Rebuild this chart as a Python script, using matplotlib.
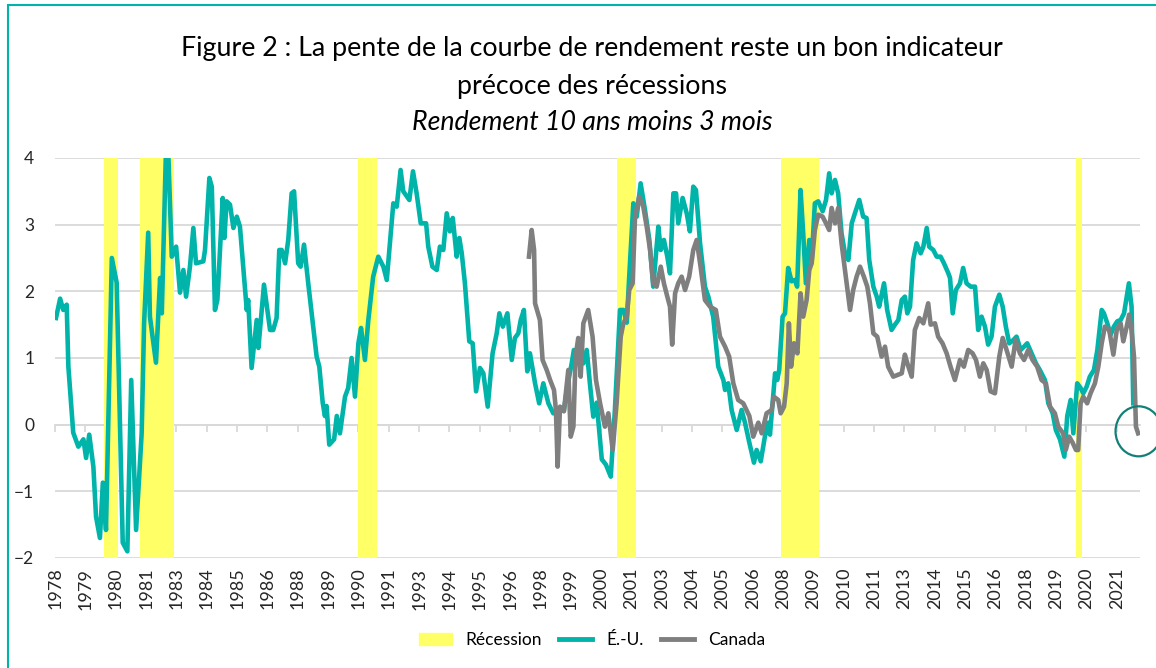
import matplotlib
matplotlib.use("Agg")
import matplotlib.pyplot as plt
from matplotlib.patches import Patch, Ellipse, Rectangle
from matplotlib.lines import Line2D

# recession periods (start, end) in decimal years
recessions = [(1980.0, 1980.58), (1981.5, 1982.92), (1990.5, 1991.25),
              (2001.17, 2001.92), (2007.92, 2009.5), (2020.08, 2020.33)]

# 10y - 3m spread, United States
us_years = [1978.04, 1978.21, 1978.34, 1978.48, 1978.55, 1978.75, 1978.96, 1979.17, 1979.28, 1979.41,
            1979.58, 1979.69, 1979.85, 1979.97, 1980.10, 1980.34, 1980.54, 1980.79, 1980.98, 1981.14,
            1981.34, 1981.57, 1981.67, 1981.84, 1981.91, 1982.16, 1982.33, 1982.40, 1982.57, 1982.67,
            1982.81, 1982.99, 1983.15, 1983.29, 1983.40, 1983.56, 1983.70, 1983.81, 1984.11, 1984.18,
            1984.36, 1984.46, 1984.59, 1984.69, 1984.91, 1984.98, 1985.07, 1985.21, 1985.35, 1985.49,
            1985.62, 1985.90, 1985.96, 1986.10, 1986.31, 1986.38, 1986.61, 1986.86, 1986.99, 1987.13,
            1987.24, 1987.34, 1987.48, 1987.61, 1987.75, 1987.85, 1988.02, 1988.12, 1988.26, 1988.44,
            1988.78, 1988.89, 1989.03, 1989.12, 1989.19, 1989.30, 1989.50, 1989.61, 1989.74, 1989.95,
            1990.08, 1990.22, 1990.36, 1990.50, 1990.61, 1990.77, 1990.91, 1991.11, 1991.32, 1991.53,
            1991.67, 1991.80, 1991.94, 1992.08, 1992.24, 1992.35, 1992.60, 1992.75, 1992.90, 1993.07,
            1993.29, 1993.38, 1993.55, 1993.73, 1993.86, 1994.00, 1994.14, 1994.27, 1994.39, 1994.55,
            1994.66, 1994.76, 1994.89, 1995.07, 1995.21, 1995.35, 1995.51, 1995.65, 1995.83, 1996.03,
            1996.20, 1996.31, 1996.45, 1996.64, 1996.82, 1996.95, 1997.09, 1997.19, 1997.32, 1997.46,
            1997.57, 1997.78, 1997.95, 1998.12, 1998.33, 1998.53, 1998.74, 1998.97, 1999.11, 1999.29,
            1999.38, 1999.56, 1999.77, 1999.91, 2000.04, 2000.18, 2000.32, 2000.53, 2000.70, 2000.90,
            2001.07, 2001.28, 2001.42, 2001.56, 2001.66, 2001.83, 2001.97, 2002.13, 2002.31, 2002.49,
            2002.65, 2002.86, 2002.96, 2003.09, 2003.23, 2003.34, 2003.48, 2003.59, 2003.68, 2003.86,
            2004.03, 2004.16, 2004.30, 2004.41, 2004.58, 2004.78, 2004.92, 2005.12, 2005.33, 2005.54,
            2005.61, 2005.74, 2005.88, 2006.09, 2006.29, 2006.43, 2006.61, 2006.80, 2006.91, 2007.08,
            2007.25, 2007.39, 2007.46, 2007.67, 2007.76, 2007.84, 2007.98, 2008.08, 2008.21, 2008.35,
            2008.49, 2008.58, 2008.72, 2008.83, 2008.94, 2009.08, 2009.18, 2009.31, 2009.45, 2009.63,
            2009.77, 2009.90, 2010.00, 2010.14, 2010.27, 2010.41, 2010.55, 2010.69, 2010.83, 2010.96,
            2011.14, 2011.30, 2011.44, 2011.55, 2011.72, 2011.86, 2011.96, 2012.16, 2012.29, 2012.47,
            2012.61, 2012.75, 2012.89, 2013.02, 2013.12, 2013.23, 2013.36, 2013.50, 2013.67, 2013.78,
            2013.92, 2014.02, 2014.19, 2014.33, 2014.49, 2014.63, 2014.81, 2014.88, 2014.99, 2015.12,
            2015.29, 2015.42, 2015.56, 2015.73, 2015.91, 2016.04, 2016.18, 2016.32, 2016.45, 2016.59,
            2016.73, 2016.91, 2017.05, 2017.18, 2017.32, 2017.49, 2017.62, 2017.79, 2017.93, 2018.06,
            2018.24, 2018.42, 2018.58, 2018.79, 2018.93, 2019.11, 2019.24, 2019.41, 2019.59, 2019.71,
            2019.85, 2019.96, 2020.12, 2020.26, 2020.37, 2020.51, 2020.64, 2020.81, 2020.95, 2021.13,
            2021.22, 2021.36, 2021.50, 2021.63, 2021.77, 2021.91, 2022.05, 2022.16, 2022.25, 2022.36,
            2022.43]
us_values = [1.60, 1.89, 1.72, 1.80, 0.87, -0.12, -0.33, -0.22, -0.50, -0.15,
             -0.63, -1.38, -1.70, -0.87, -1.58, 2.50, 2.13, -1.77, -1.90, 0.67,
             -1.58, -0.13, 1.52, 2.88, 1.62, 0.93, 2.20, 1.67, 4.10, 4.05,
             2.52, 2.67, 1.98, 2.32, 1.92, 2.37, 2.95, 2.42, 2.45, 2.62,
             3.70, 3.57, 1.72, 1.87, 3.40, 2.80, 3.35, 3.30, 2.95, 3.12,
             2.97, 1.72, 1.87, 0.85, 1.57, 1.15, 2.10, 1.42, 1.42, 1.60,
             2.62, 2.62, 2.42, 2.77, 3.47, 3.50, 2.42, 2.37, 2.70, 2.10,
             1.02, 0.87, 0.33, 0.13, 0.28, -0.30, -0.22, 0.13, -0.13, 0.42,
             0.55, 1.00, 0.42, 1.22, 1.45, 0.97, 1.57, 2.22, 2.52, 2.37,
             2.17, 2.72, 3.32, 3.27, 3.82, 3.50, 3.37, 3.80, 3.47, 3.02,
             3.02, 2.67, 2.37, 2.32, 2.67, 2.62, 3.17, 2.90, 3.10, 2.52,
             2.80, 2.57, 2.12, 1.25, 1.22, 0.50, 0.85, 0.77, 0.27, 1.07,
             1.37, 1.67, 1.47, 1.67, 0.97, 1.30, 1.37, 1.57, 1.72, 0.80,
             1.07, 0.62, 0.32, 0.62, 0.32, 0.17, 0.20, 0.22, 0.57, 0.92,
             1.12, 0.92, 0.92, 1.12, 0.62, 0.12, 0.33, -0.52, -0.60, -0.78,
             0.22, 1.72, 1.72, 1.53, 2.22, 3.32, 3.12, 3.62, 3.22, 2.77,
             2.07, 2.97, 2.62, 2.77, 2.52, 2.27, 3.47, 3.47, 3.02, 3.40,
             3.17, 2.90, 3.57, 3.52, 2.72, 2.07, 1.92, 1.62, 0.87, 0.67,
             0.52, 0.62, 0.22, -0.08, 0.22, 0.03, -0.27, -0.57, -0.38, -0.55,
             -0.18, 0.03, -0.15, 0.77, 0.67, 0.82, 1.62, 1.67, 2.35, 2.15,
             2.17, 2.07, 3.52, 2.87, 2.12, 2.77, 2.47, 3.32, 3.35, 3.20,
             3.37, 3.77, 3.47, 3.67, 3.47, 2.87, 2.57, 2.47, 3.02, 3.17,
             3.37, 3.12, 3.10, 2.47, 2.07, 1.92, 1.77, 2.12, 1.72, 1.42,
             1.50, 1.57, 1.87, 1.92, 1.67, 1.77, 2.47, 2.72, 2.57, 2.67,
             2.95, 2.67, 2.62, 2.52, 2.52, 2.42, 2.27, 2.20, 1.67, 2.02,
             2.12, 2.35, 2.12, 2.07, 2.07, 1.42, 1.62, 1.47, 1.20, 1.32,
             1.77, 1.95, 1.77, 1.47, 1.22, 1.27, 1.32, 1.12, 1.17, 1.22,
             1.07, 0.92, 0.82, 0.67, 0.32, 0.17, -0.08, -0.22, -0.48, 0.13,
             0.37, -0.13, 0.62, 0.55, 0.47, 0.57, 0.72, 0.82, 1.12, 1.72,
             1.67, 1.52, 1.35, 1.47, 1.55, 1.57, 1.67, 1.92, 2.12, 1.77,
             0.32]

# 10y - 3m spread, Canada
ca_years = [1997.53, 1997.64, 1997.74, 1997.78, 1997.98, 1998.09, 1998.26, 1998.40, 1998.56, 1998.64,
            1998.71, 1998.81, 1998.97, 1999.15, 1999.25, 1999.36, 1999.45, 1999.56, 1999.66, 1999.77,
            1999.97, 2000.15, 2000.29, 2000.46, 2000.66, 2000.80, 2000.98, 2001.14, 2001.31, 2001.42,
            2001.56, 2001.66, 2001.80, 2001.90, 2002.07, 2002.24, 2002.38, 2002.52, 2002.65, 2002.79,
            2002.96, 2003.09, 2003.23, 2003.34, 2003.43, 2003.55, 2003.68, 2003.82, 2003.96, 2004.13,
            2004.30, 2004.44, 2004.60, 2004.78, 2004.99, 2005.23, 2005.40, 2005.61, 2005.78, 2005.95,
            2006.15, 2006.36, 2006.61, 2006.77, 2006.98, 2007.12, 2007.32, 2007.53, 2007.62, 2007.80,
            2007.90, 2008.04, 2008.15, 2008.24, 2008.33, 2008.45, 2008.59, 2008.72, 2008.83, 2008.97,
            2009.08, 2009.18, 2009.31, 2009.45, 2009.63, 2009.77, 2009.90, 2010.00, 2010.14, 2010.27,
            2010.41, 2010.55, 2010.76, 2010.89, 2011.03, 2011.17, 2011.33, 2011.47, 2011.58, 2011.72,
            2011.88, 2012.06, 2012.20, 2012.33, 2012.54, 2012.75, 2012.89, 2013.02, 2013.12, 2013.30,
            2013.43, 2013.61, 2013.78, 2013.98, 2014.08, 2014.26, 2014.39, 2014.57, 2014.74, 2014.90,
            2015.08, 2015.29, 2015.45, 2015.63, 2015.81, 2015.95, 2016.11, 2016.25, 2016.39, 2016.55,
            2016.73, 2016.91, 2017.05, 2017.21, 2017.42, 2017.58, 2017.76, 2017.93, 2018.10, 2018.28,
            2018.47, 2018.65, 2018.83, 2019.00, 2019.20, 2019.34, 2019.54, 2019.65, 2019.79, 2019.93,
            2020.07, 2020.16, 2020.26, 2020.37, 2020.53, 2020.67, 2020.85, 2020.99, 2021.13, 2021.26,
            2021.44, 2021.61, 2021.75, 2021.91, 2022.02, 2022.16, 2022.26, 2022.36, 2022.46, 2022.54,
            2022.63]
ca_values = [2.52, 2.92, 2.62, 1.82, 1.57, 0.97, 0.82, 0.67, 0.52, 0.22,
             -0.63, 0.27, 0.20, 0.82, -0.18, -0.03, 1.02, 1.30, 0.72, 1.52,
             1.72, 1.32, 0.67, 0.32, -0.03, 0.17, -0.38, 0.32, 1.32, 1.52,
             1.62, 2.02, 2.12, 3.12, 3.42, 3.27, 2.97, 2.62, 2.12, 2.07,
             2.37, 2.12, 1.92, 1.77, 1.20, 1.97, 2.12, 2.22, 2.02, 2.22,
             2.62, 2.77, 2.37, 1.87, 1.77, 1.72, 1.32, 1.17, 1.02, 0.62,
             0.37, 0.32, 0.13, -0.18, 0.03, -0.13, 0.17, 0.22, 0.42, 0.37,
             0.17, 0.27, 0.62, 1.52, 0.87, 1.22, 1.07, 1.97, 1.62, 1.87,
             2.32, 2.42, 2.92, 3.15, 3.12, 3.02, 2.92, 3.25, 3.02, 3.25,
             2.72, 2.32, 1.72, 2.02, 2.22, 2.37, 2.22, 2.07, 1.82, 1.37,
             1.32, 1.02, 1.17, 0.87, 0.72, 0.75, 0.77, 1.05, 0.92, 0.72,
             1.42, 1.60, 1.52, 1.82, 1.50, 1.52, 1.32, 1.22, 1.07, 0.87,
             0.67, 0.97, 0.87, 1.12, 1.07, 0.97, 0.72, 0.92, 0.82, 0.50,
             0.47, 1.02, 1.30, 1.12, 0.87, 1.27, 1.07, 0.97, 1.12, 0.97,
             0.87, 0.67, 0.62, 0.27, 0.17, -0.03, -0.13, -0.38, -0.18, -0.27,
             -0.38, -0.38, 0.32, 0.42, 0.32, 0.47, 0.62, 0.87, 1.22, 1.47,
             1.42, 1.05, 1.42, 1.52, 1.25, 1.47, 1.65, 1.42, 1.02, -0.03,
             -0.13]

# x-axis: one label every 15 months
tick_years = [1978 + 1.25 * k for k in range(36)]
tick_labels = [str(int(y)) for y in tick_years]

TEAL = "#00B4AA"
GREY = "#7F7F7F"
YELLOW = "#FFFF66"
GRID = "#D9D9D9"

plt.rcParams["font.family"] = ["Lato", "DejaVu Sans"]

fig = plt.figure(figsize=(11.56, 6.68), dpi=100)
ax = fig.add_axes([0.0476, 0.1647, 0.9384, 0.5988])

for start, end in recessions:
    ax.axvspan(start, end, color=YELLOW, lw=0, zorder=1)

ax.plot(us_years, us_values, color=TEAL, lw=3.3, zorder=3, solid_joinstyle="round")
ax.plot(ca_years, ca_values, color=GREY, lw=3.3, zorder=4, solid_joinstyle="round")

ax.set_xlim(1978, 2022.7)
ax.set_ylim(-2, 4)
ax.set_yticks(range(-2, 5))
ax.yaxis.grid(True, color=GRID, lw=1.3, zorder=0)
ax.set_axisbelow(True)
for s in ax.spines.values():
    s.set_visible(False)
ax.tick_params(axis="y", length=0, pad=15, labelsize=12.5, labelcolor="#262626")
ax.set_xticks(tick_years)
ax.set_xticklabels(tick_labels, rotation=90)
ax.tick_params(axis="x", length=0, pad=7, labelsize=13, labelcolor="#262626")

# horizontal axis line with tick marks at zero
sec = ax.secondary_xaxis(1 / 3)
sec.set_xticks(tick_years)
sec.set_xticklabels([])
sec.tick_params(axis="x", direction="out", length=5, width=1.3, color=GRID)
sec.spines["bottom"].set_color(GRID)
sec.spines["bottom"].set_linewidth(1.3)

# circle highlighting the latest value
ax.add_patch(Ellipse((2022.65, -0.1), 1.9, 0.75, fill=False, ec="#138078", lw=1.6,
                     clip_on=False, zorder=5))

cx = 0.512
fig.text(cx, 0.928, "Figure 2 : La pente de la courbe de rendement reste un bon indicateur",
         ha="center", va="center", fontsize=19.3)
fig.text(cx, 0.870, "précoce des récessions", ha="center", va="center", fontsize=19.3)
fig.text(cx, 0.817, "Rendement 10 ans moins 3 mois", ha="center", va="center",
         fontsize=19.3, style="italic")

handles = [Patch(color=YELLOW, label="Récession"),
           Line2D([], [], color=TEAL, lw=3.5, label="É.-U."),
           Line2D([], [], color=GREY, lw=3.5, label="Canada")]
fig.legend(handles=handles, loc="center", bbox_to_anchor=(cx, 0.042), ncol=3,
           frameon=False, fontsize=12.5, handlelength=1.9, handletextpad=0.8,
           columnspacing=1.0)

# teal frame around the figure
fig.patches.append(Rectangle((8 / 1156, -0.02), 1.0, 1.0 - 5 / 668 + 0.02,
                             transform=fig.transFigure, fill=False, ec=TEAL, lw=1.5))

fig.savefig("out.png", dpi=100)
